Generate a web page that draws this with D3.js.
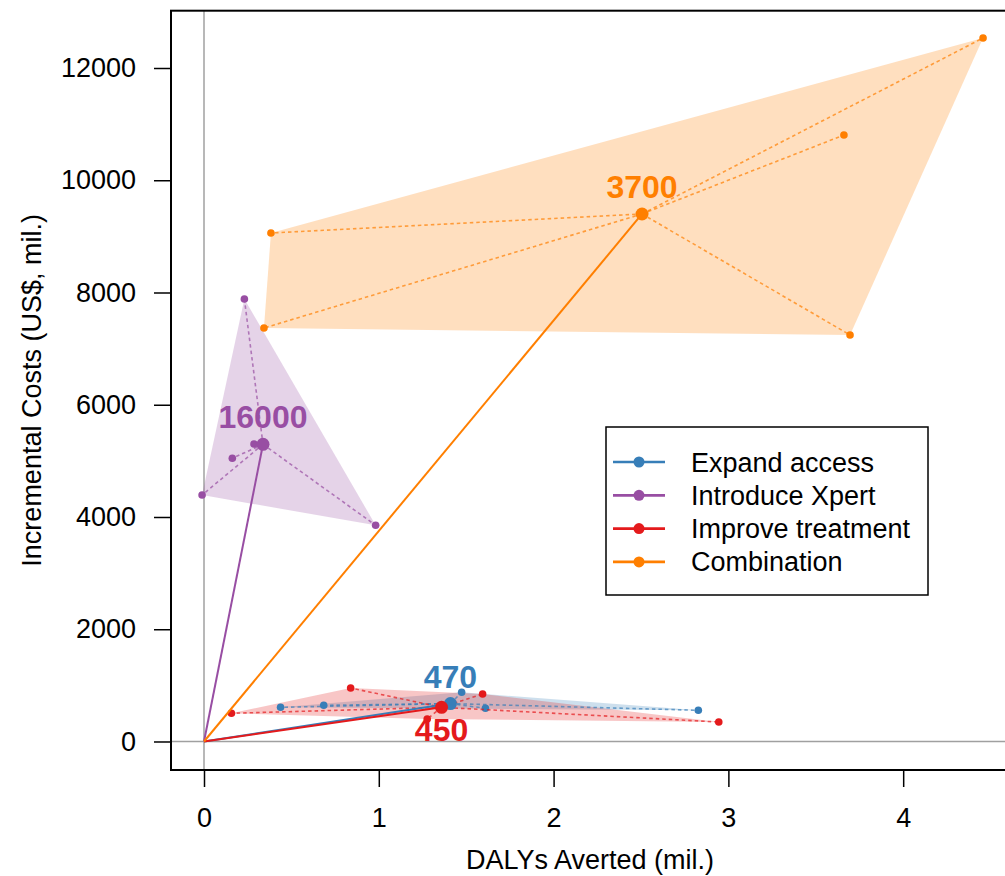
<!DOCTYPE html>
<html>
<head>
<meta charset="utf-8">
<script src="https://cdn.jsdelivr.net/npm/d3@7/dist/d3.min.js"></script>
<style>
  body { margin: 0; background: #fff; }
  svg text { font-family: "Liberation Sans", Arial, Helvetica, sans-serif; }
</style>
</head>
<body>
<svg class="cea-ch"></svg>
<script>
"use strict";

var strategies = ['Expand access', 'Introduce Xpert', 'Improve treatment', 'Combination'];
var colors = ['#377eb8', '#984ea3', '#e41a1c', '#ff7f00'];
var ratioLabels = ['470', '16000', '450', '3700'];
var labelBelow = [false, false, true, false];

// central estimate of each strategy (DALYs averted mil., incremental cost US$ mil.)
var centralDalys = [1.41, 0.3375, 1.359, 2.506];
var centralCosts = [675, 5295, 609, 9399];

// scenario results around each central estimate
var expandDalys = [0.438, 0.685, 1.474, 1.610, 2.828];
var expandCosts = [609, 645, 876, 591, 556];
var xpertDalys = [0.231, -0.011, 0.982, 0.162, 0.286];
var xpertCosts = [7884, 4392, 3852, 5046, 5301];
var treatDalys = [0.157, 0.839, 1.594, 1.277, 2.945];
var treatCosts = [502, 953, 846, 401, 347];
var comboDalys = [4.457, 3.661, 0.383, 0.343, 3.696];
var comboCosts = [12535, 10806, 9060, 7367, 7243];

var xTicks = [0, 1, 2, 3, 4];
var yTicks = [0, 2000, 4000, 6000, 8000, 10000, 12000];

var runDalys = [expandDalys, xpertDalys, treatDalys, comboDalys];
var runCosts = [expandCosts, xpertCosts, treatCosts, comboCosts];

var series = strategies.map(function(name, i){
  return {
    name: name,
    color: colors[i],
    label: ratioLabels[i],
    below: labelBelow[i],
    c: [centralDalys[i], centralCosts[i]],
    runs: runDalys[i].map(function(d, j){ return [d, runCosts[i][j]]; })
  };
});

var W = 1005, H = 876;
var plotL = 171, plotR = 1014, plotT = 10.7, plotB = 770;

var svg = d3.select('.cea-ch')
  .attr('width', W)
  .attr('height', H);

var x = d3.scaleLinear()
  .domain([-0.1888, 4.634])
  .range([plotL, plotR]);

var y = d3.scaleLinear()
  .domain([-508, 13021])
  .range([plotB, plotT]);

// zero reference lines
svg.append('line')
  .attr('x1', plotL).attr('x2', plotR)
  .attr('y1', y(0)).attr('y2', y(0))
  .style('stroke', '#a0a0a0').style('stroke-width', 1.5);
svg.append('line')
  .attr('x1', x(0)).attr('x2', x(0))
  .attr('y1', plotT).attr('y2', plotB)
  .style('stroke', '#a0a0a0').style('stroke-width', 1.5);

// hulls
svg.append('g').selectAll('path')
  .data(series)
  .enter().append('path')
    .attr('d', function(s){
      var pts = s.runs.concat([s.c]).map(function(p){ return [x(p[0]), y(p[1])]; });
      return 'M' + d3.polygonHull(pts).join('L') + 'Z';
    })
    .style('fill', function(s){ return s.color; })
    .style('fill-opacity', 0.25)
    .style('stroke', 'none');

// dotted spokes from central estimate to each run
series.forEach(function(s){
  svg.append('g').selectAll('line')
    .data(s.runs)
    .enter().append('line')
      .attr('x1', x(s.c[0])).attr('y1', y(s.c[1]))
      .attr('x2', function(d){ return x(d[0]); })
      .attr('y2', function(d){ return y(d[1]); })
      .style('stroke', s.color)
      .style('stroke-opacity', 0.7)
      .style('stroke-width', 1.6)
      .style('stroke-dasharray', '3.5,3');

  svg.append('g').selectAll('circle')
    .data(s.runs)
    .enter().append('circle')
      .attr('cx', function(d){ return x(d[0]); })
      .attr('cy', function(d){ return y(d[1]); })
      .attr('r', 3.8)
      .style('fill', s.color);
});

// lines from origin to central estimates
svg.append('g').selectAll('line')
  .data(series)
  .enter().append('line')
    .attr('x1', x(0)).attr('y1', y(0))
    .attr('x2', function(s){ return x(s.c[0]); })
    .attr('y2', function(s){ return y(s.c[1]); })
    .style('stroke', function(s){ return s.color; })
    .style('stroke-width', 2);

svg.append('g').selectAll('circle')
  .data(series)
  .enter().append('circle')
    .attr('cx', function(s){ return x(s.c[0]); })
    .attr('cy', function(s){ return y(s.c[1]); })
    .attr('r', 6.5)
    .style('fill', function(s){ return s.color; });

svg.append('g').selectAll('text')
  .data(series)
  .enter().append('text')
    .attr('x', function(s){ return x(s.c[0]); })
    .attr('y', function(s){ return y(s.c[1]) + (s.below ? 34 : -16); })
    .attr('text-anchor', 'middle')
    .style('font-size', '32px')
    .style('font-weight', 'bold')
    .style('fill', function(s){ return s.color; })
    .text(function(s){ return s.label; });

// axes
var xAxis = d3.axisBottom(x).tickValues(xTicks).tickFormat(d3.format('d'))
  .tickSize(17).tickPadding(21);
var yAxis = d3.axisLeft(y).tickValues(yTicks).tickFormat(d3.format('d'))
  .tickSize(17).tickPadding(18);

var gx = svg.append('g')
  .attr('transform', 'translate(0,' + plotB + ')')
  .call(xAxis);
var gy = svg.append('g')
  .attr('transform', 'translate(' + plotL + ',0)')
  .call(yAxis);

[gx, gy].forEach(function(g){
  g.select('.domain').remove();
  g.selectAll('line').style('stroke', '#000').style('stroke-width', 1.5);
  g.selectAll('text')
    .style('font-size', '27px')
    .style('font-family', '"Liberation Sans", Arial, Helvetica, sans-serif')
    .style('fill', '#000');
});

svg.append('rect')
  .attr('x', plotL).attr('y', plotT)
  .attr('width', plotR - plotL).attr('height', plotB - plotT)
  .style('fill', 'none')
  .style('stroke', '#000')
  .style('stroke-width', 2);

svg.append('text')
  .attr('x', 590).attr('y', 869)
  .attr('text-anchor', 'middle')
  .style('font-size', '27px')
  .text('DALYs Averted (mil.)');

svg.append('text')
  .attr('transform', 'translate(41,' + ((plotT + plotB) / 2) + ') rotate(-90)')
  .attr('text-anchor', 'middle')
  .style('font-size', '27px')
  .text('Incremental Costs (US$, mil.)');

// legend
var legend = svg.append('g').attr('transform', 'translate(606,427)');
legend.append('rect')
  .attr('width', 322).attr('height', 168)
  .style('fill', '#fff')
  .style('stroke', '#000')
  .style('stroke-width', 1.5);

var rows = legend.selectAll('.row')
  .data(series)
  .enter().append('g')
    .attr('class', 'row')
    .attr('transform', function(s, i){ return 'translate(0,' + (35 + i * 33.3) + ')'; });

rows.append('line')
  .attr('x1', 7).attr('x2', 59)
  .style('stroke', function(s){ return s.color; })
  .style('stroke-width', 2.7);
rows.append('circle')
  .attr('cx', 33).attr('r', 5.5)
  .style('fill', function(s){ return s.color; });
rows.append('text')
  .attr('x', 85).attr('y', 9.5)
  .style('font-size', '27px')
  .text(function(s){ return s.name; });
</script>
</body>
</html>
